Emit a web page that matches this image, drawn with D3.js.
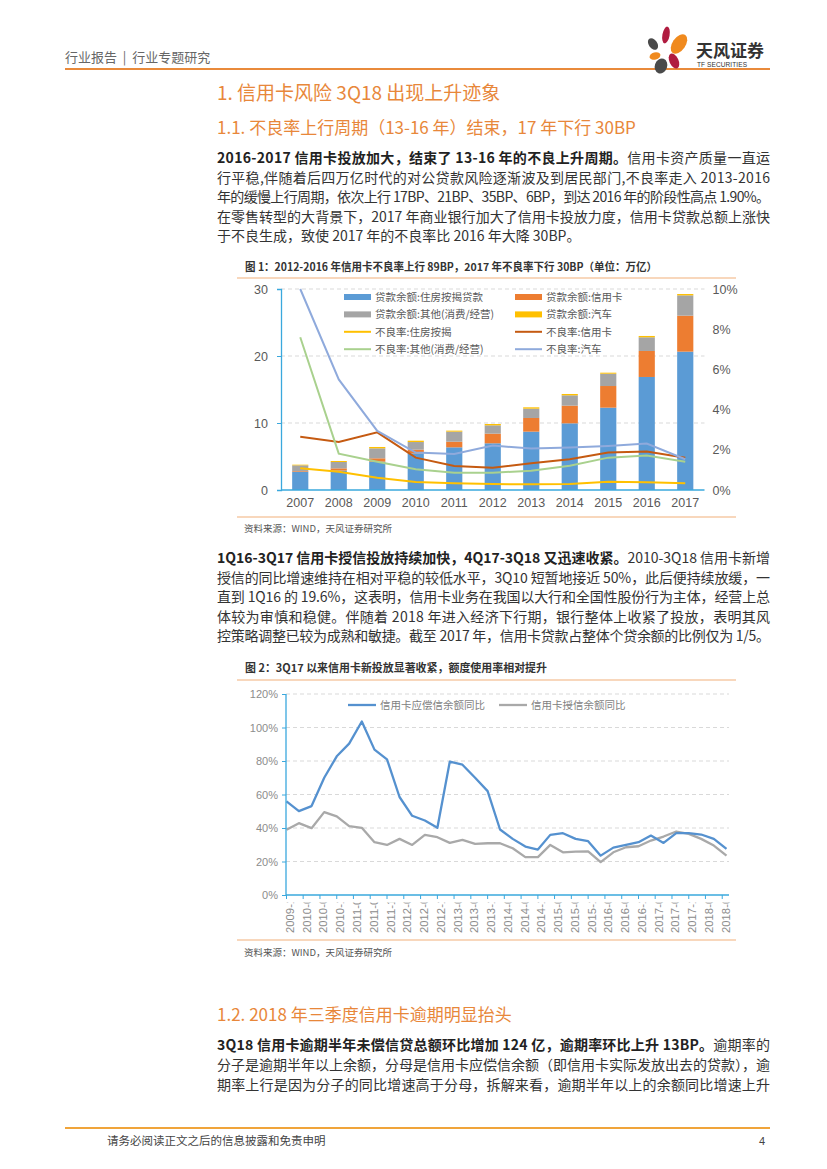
<!DOCTYPE html>
<html>
<head>
<meta charset="utf-8">
<script src="https://cdn.jsdelivr.net/npm/d3@7"></script>
<style>
  body { margin: 0; background: #fff; }
  svg { display: block; }
</style>
</head>
<body>
<div id="page"></div>
<script>
// 数据：图1（单位：万亿 / 不良率 %）
years = ['2007', '2008', '2009', '2010', '2011', '2012', '2013', '2014', '2015', '2016', '2017']
balMortgage = [2.74, 2.90, 4.23, 5.47, 6.37, 6.97, 8.71, 9.95, 12.29, 16.87, 20.65]
balCard     = [0.10, 0.33, 0.50, 0.55, 0.84, 1.44, 2.04, 2.64, 3.23, 3.88, 5.37]
balOther    = [0.84, 0.95, 1.49, 1.14, 1.50, 1.24, 1.39, 1.54, 1.84, 2.04, 3.03]
balAuto     = [0.10, 0.15, 0.20, 0.20, 0.15, 0.20, 0.20, 0.20, 0.15, 0.20, 0.20]
nplMortgage = [1.08, 0.91, 0.61, 0.40, 0.33, 0.30, 0.28, 0.30, 0.41, 0.38, 0.33]
nplCard     = [2.65, 2.39, 2.87, 1.61, 1.19, 1.11, 1.33, 1.53, 1.86, 1.92, 1.61]
nplOther    = [7.60, 1.81, 1.41, 1.03, 0.86, 0.86, 0.96, 1.21, 1.61, 1.72, 1.41]
nplAuto     = [10.0, 5.50, 2.94, 1.86, 1.79, 2.21, 2.06, 2.11, 2.19, 2.31, 1.53]
leftTicks1  = [0, 10, 20, 30]
rightTicks1 = [0, 2, 4, 6, 8, 10]

// 数据：图2（同比 %）
quarters = ['2009-12', '2010-03', '2010-06', '2010-09', '2010-12', '2011-03', '2011-06', '2011-09', '2011-12',
            '2012-03', '2012-06', '2012-09', '2012-12', '2013-03', '2013-06', '2013-09', '2013-12',
            '2014-03', '2014-06', '2014-09', '2014-12', '2015-03', '2015-06', '2015-09', '2015-12',
            '2016-03', '2016-06', '2016-09', '2016-12', '2017-03', '2017-06', '2017-09', '2017-12',
            '2018-03', '2018-06', '2018-09']
yoyOutstanding = [55.9, 50.1, 53.1, 70.0, 82.8, 90.4, 103.6, 86.8, 81.0, 58.5, 47.3, 44.5, 40.1,
                  79.6, 77.8, 70.0, 62.0, 39.1, 33.5, 28.9, 27.1, 35.9, 36.9, 33.5, 32.1,
                  23.5, 28.3, 29.9, 31.5, 35.5, 31.1, 36.9, 36.9, 36.1, 33.5, 27.5]
yoyCredit      = [38.9, 42.9, 39.9, 49.5, 46.9, 41.1, 40.1, 31.5, 29.9, 33.5, 29.9, 35.9, 34.5,
                  31.1, 32.9, 30.5, 30.9, 30.9, 27.9, 22.6, 22.6, 29.9, 25.5, 25.9, 26.1,
                  19.6, 25.5, 28.5, 29.1, 32.5, 34.9, 37.9, 36.5, 33.5, 29.5, 23.5]
xTicks2 = ['2009-12', '2010-04', '2010-08', '2010-12', '2011-04', '2011-08', '2011-12', '2012-04', '2012-08',
           '2012-12', '2013-04', '2013-08', '2013-12', '2014-04', '2014-08', '2014-12', '2015-04', '2015-08',
           '2015-12', '2016-04', '2016-08', '2016-12', '2017-04', '2017-08', '2017-12', '2018-04', '2018-08']
yTicks2 = [0, 20, 40, 60, 80, 100, 120]

// 正文
para1 = [
  [['2016-2017 信用卡投放加大，结束了 13-16 年的不良上升周期。', true], ['信用卡资产质量一直运', false]],
  [['行平稳,伴随着后四万亿时代的对公贷款风险逐渐波及到居民部门,不良率走入 2013-2016', false]],
  [['年的缓慢上行周期，依次上行 17BP、21BP、35BP、6BP，到达 2016 年的阶段性高点 1.90%。', false]],
  [['在零售转型的大背景下，2017 年商业银行加大了信用卡投放力度，信用卡贷款总额上涨快', false]],
  [['于不良生成，致使 2017 年的不良率比 2016 年大降 30BP。', false]]
]
para2 = [
  [['1Q16-3Q17 信用卡授信投放持续加快，4Q17-3Q18 又迅速收紧。', true], ['2010-3Q18 信用卡新增', false]],
  [['授信的同比增速维持在相对平稳的较低水平，3Q10 短暂地接近 50%，此后便持续放缓，一', false]],
  [['直到 1Q16 的 19.6%，这表明，信用卡业务在我国以大行和全国性股份行为主体，经营上总', false]],
  [['体较为审慎和稳健。伴随着 2018 年进入经济下行期，银行整体上收紧了投放，表明其风', false]],
  [['控策略调整已较为成熟和敏捷。截至 2017 年，信用卡贷款占整体个贷余额的比例仅为 1/5。', false]]
]
para3 = [
  [['3Q18 信用卡逾期半年未偿信贷总额环比增加 124 亿，逾期率环比上升 13BP。', true], ['逾期率的', false]],
  [['分子是逾期半年以上余额，分母是信用卡应偿信余额（即信用卡实际发放出去的贷款），逾', false]],
  [['期率上行是因为分子的同比增速高于分母，拆解来看，逾期半年以上的余额同比增速上升', false]]
]

// 基本设置
W = 827
H = 1169
CJK = "'Noto Sans CJK SC', 'Noto Sans', sans-serif"
NUM = "'Liberation Sans Narrow', 'Liberation Sans', Arial, sans-serif"
ORANGE = '#e8873a'
AXIS = '#3aa8dd'

svg = d3.select('#page').append('svg')
        .attr('width', W)
        .attr('height', H)
        .style('font-family', CJK)

// 页眉
svg.append('text')
  .attr('x', 65).attr('y', 62)
  .attr('font-size', '13px')
  .attr('fill', '#666')
  .attr('xml:space', 'preserve')
  .text('行业报告  |  行业专题研究')

svg.append('line')
  .attr('x1', 65).attr('x2', 770)
  .attr('y1', 69).attr('y2', 69)
  .attr('stroke', '#e98a3b').attr('stroke-width', 2)

// 天风证券 logo
petals = [
  [-3, -14, 3.6, 8.5, 10, '#b01c40'],
  [10, -5, 6.5, 11, 35, '#f08a1e'],
  [-16, -5, 4.2, 6.5, -35, '#4a4a4a'],
  [-14, 7, 5.5, 3.6, -15, '#f08a1e'],
  [5, 12, 4.5, 8, -25, '#b01c40'],
  [-8, 17, 6.2, 7.6, 20, '#4a4a4a']
]
logo = svg.append('g').attr('transform', 'translate(669,49)')
petals.forEach(p => {
  logo.append('ellipse')
    .attr('cx', 0).attr('cy', 0)
    .attr('rx', p[2]).attr('ry', p[3])
    .attr('transform', `translate(${p[0]},${p[1]}) rotate(${p[4]})`)
    .attr('fill', p[5])
})
svg.append('text')
  .attr('x', 696).attr('y', 57)
  .attr('font-size', '17px').attr('font-weight', 'bold')
  .attr('fill', '#333')
  .attr('textLength', 68)
  .text('天风证券')
svg.append('text')
  .attr('x', 697).attr('y', 67)
  .attr('font-family', NUM)
  .attr('font-size', '6.5px')
  .attr('fill', '#333')
  .attr('textLength', 50)
  .text('TF SECURITIES')

// 标题
function heading(txt, y, size) {
  svg.append('text')
    .attr('x', 217).attr('y', y)
    .attr('font-size', `${size}px`)
    .attr('fill', ORANGE)
    .text(txt)
}
heading('1. 信用卡风险 3Q18 出现上升迹象', 100, 19)
heading('1.1. 不良率上行周期（13-16 年）结束，17 年下行 30BP', 134, 17)
heading('1.2. 2018 年三季度信用卡逾期明显抬头', 1021, 17)

// 段落（两端对齐）
function paragraph(lines, y0, dy, lastFull) {
  lines.forEach((segs, i) => {
    t = svg.append('text')
      .attr('x', 217).attr('y', y0 + i * dy)
      .attr('font-size', '14px')
      .attr('fill', '#333')
    segs.forEach(s => {
      t.append('tspan')
        .attr('font-weight', s[1] ? 'bold' : 'normal')
        .attr('fill', s[1] ? '#222' : '#333')
        .text(s[0])
    })
    if (i < lines.length - 1 || lastFull) {
      t.attr('textLength', 553).attr('lengthAdjust', 'spacing')
    }
  })
}
paragraph(para1, 163, 19.6, false)
paragraph(para2, 563, 19.6, true)
paragraph(para3, 1050, 20, true)

// 图框
function figTitle(txt, y, len) {
  svg.append('text')
    .attr('x', 245).attr('y', y)
    .attr('font-size', '11px').attr('font-weight', 'bold')
    .attr('fill', '#333')
    .attr('textLength', len).attr('lengthAdjust', 'spacingAndGlyphs')
    .text(txt)
}
function figLine(y) {
  svg.append('line')
    .attr('x1', 237).attr('x2', 736)
    .attr('y1', y).attr('y2', y)
    .attr('stroke', '#f2b07a').attr('stroke-width', 1.2)
}
function source(y) {
  svg.append('text')
    .attr('x', 244).attr('y', y)
    .attr('font-size', '9.5px')
    .attr('fill', '#555')
    .text('资料来源：WIND，天风证券研究所')
}

figTitle('图 1：2012-2016 年信用卡不良率上行 89BP，2017 年不良率下行 30BP（单位：万亿）', 271, 412)
figLine(278)
figLine(517)
source(532)

figTitle('图 2：3Q17 以来信用卡新投放显著收紧，额度使用率相对提升', 672, 302)
figLine(680)
figLine(940)
source(956)

// ---------------- 图 1 ----------------
g1 = svg.append('g')

x1 = d3.scaleBand().domain(years).range([281, 704.5]).paddingInner(0.58).paddingOuter(0.29)
yL = d3.scaleLinear().domain([0, 30]).range([490, 289])
yR = d3.scaleLinear().domain([0, 10]).range([490, 289])

// 网格线
g1.selectAll('.grid1')
  .data(leftTicks1.filter(d => d > 0))
  .enter().append('line')
  .attr('x1', 281).attr('x2', 704.5)
  .attr('y1', d => yL(d)).attr('y2', d => yL(d))
  .attr('stroke', '#d9d9d9').attr('stroke-dasharray', '4,3')

// 堆叠柱
table1 = years.map((y, i) => ({
  year: y, mortgage: balMortgage[i], card: balCard[i], other: balOther[i], auto: balAuto[i]
}))
keys1 = ['mortgage', 'card', 'other', 'auto']
barColor = d3.scaleOrdinal().domain(keys1).range(['#5b9bd5', '#ed7d31', '#a5a5a5', '#ffc000'])
stack1 = d3.stack().keys(keys1)(table1)

g1.selectAll('.serie')
  .data(stack1)
  .enter().append('g')
  .attr('fill', d => barColor(d.key))
  .selectAll('rect')
  .data(d => d)
  .enter().append('rect')
  .attr('x', d => x1(d.data.year))
  .attr('width', x1.bandwidth())
  .attr('y', d => yL(d[1]))
  .attr('height', d => yL(d[0]) - yL(d[1]))

// 不良率折线
lines1 = [
  { name: '不良率:住房按揭', values: nplMortgage, color: '#ffc000' },
  { name: '不良率:信用卡', values: nplCard, color: '#c55a11' },
  { name: '不良率:其他(消费/经营)', values: nplOther, color: '#a9d18e' },
  { name: '不良率:汽车', values: nplAuto, color: '#8faadc' }
]
line1 = d3.line()
  .x((d, i) => x1(years[i]) + x1.bandwidth() / 2)
  .y(d => yR(d))

lines1.forEach(s => {
  g1.append('path')
    .datum(s.values)
    .attr('d', line1)
    .attr('fill', 'none')
    .attr('stroke', s.color)
    .attr('stroke-width', 2)
})

// 坐标轴
axL = g1.append('g')
  .attr('transform', 'translate(281,0)')
  .call(d3.axisLeft(yL).tickValues(leftTicks1).tickSize(4).tickPadding(9))
axR = g1.append('g')
  .attr('transform', 'translate(704.5,0)')
  .call(d3.axisRight(yR).tickValues(rightTicks1).tickSize(0).tickPadding(8).tickFormat(d => d + '%'))
axB = g1.append('g')
  .attr('transform', 'translate(0,490)')
  .call(d3.axisBottom(x1).tickSize(0).tickPadding(8))

axR.select('.domain').remove()
;[axL, axB].forEach(a => {
  a.select('.domain').attr('stroke', AXIS).attr('stroke-width', 1.3)
  a.selectAll('.tick line').attr('stroke', AXIS)
})
;[axL, axR, axB].forEach(a => {
  a.selectAll('text')
    .attr('font-family', NUM)
    .attr('font-size', '12.5px')
    .attr('fill', '#595959')
})
axB.selectAll('.domain').attr('d', 'M281,0H704.5')

// 图例
legend1 = [
  { name: '贷款余额:住房按揭贷款', color: '#5b9bd5', bar: true },
  { name: '贷款余额:信用卡', color: '#ed7d31', bar: true },
  { name: '贷款余额:其他(消费/经营)', color: '#a5a5a5', bar: true },
  { name: '贷款余额:汽车', color: '#ffc000', bar: true }
].concat(lines1.map(s => ({ name: s.name, color: s.color, bar: false })))

legend1.forEach((d, i) => {
  lx = i % 2 === 0 ? 344 : 515
  ly = 297 + Math.floor(i / 2) * 17.4
  if (d.bar) {
    g1.append('rect')
      .attr('x', lx).attr('y', ly - 3)
      .attr('width', 27).attr('height', 6)
      .attr('fill', d.color)
  } else {
    g1.append('line')
      .attr('x1', lx).attr('x2', lx + 27)
      .attr('y1', ly).attr('y2', ly)
      .attr('stroke', d.color).attr('stroke-width', 2)
  }
  g1.append('text')
    .attr('x', lx + 31).attr('y', ly + 3.7)
    .attr('font-size', '10.5px')
    .attr('fill', '#595959')
    .text(d.name)
})

// ---------------- 图 2 ----------------
g2 = svg.append('g')
parseM = d3.timeParse('%Y-%m')

x2 = d3.scaleTime()
  .domain([parseM(quarters[0]), parseM(quarters[quarters.length - 1])])
  .range([286.5, 726.5])
y2 = d3.scaleLinear().domain([0, 120]).range([895, 694])

g2.selectAll('.grid2')
  .data(yTicks2.filter(d => d > 0))
  .enter().append('line')
  .attr('x1', 286).attr('x2', 729)
  .attr('y1', d => y2(d)).attr('y2', d => y2(d))
  .attr('stroke', '#d9d9d9').attr('stroke-dasharray', '4,3')

series2 = [
  { name: '信用卡应偿信余额同比', values: yoyOutstanding, color: '#5591cf' },
  { name: '信用卡授信余额同比', values: yoyCredit, color: '#a9a9a9' }
]
line2 = d3.line()
  .x((d, i) => x2(parseM(quarters[i])))
  .y(d => y2(d))

// 灰线在下，蓝线在上
series2.slice().reverse().forEach(s => {
  g2.append('path')
    .datum(s.values)
    .attr('d', line2)
    .attr('fill', 'none')
    .attr('stroke', s.color)
    .attr('stroke-width', 2.3)
    .attr('stroke-linejoin', 'round')
})

ax2L = g2.append('g')
  .attr('transform', 'translate(286,0)')
  .call(d3.axisLeft(y2).tickValues(yTicks2).tickSize(4).tickPadding(4).tickFormat(d => d + '%'))
ax2L.select('.domain').attr('stroke', AXIS).attr('stroke-width', 1.3).attr('d', 'M0,694V895')
ax2L.selectAll('.tick line').attr('stroke', AXIS)
ax2L.selectAll('text')
  .attr('font-family', NUM)
  .attr('font-size', '11px')
  .attr('fill', '#8c8c8c')

// x 轴
g2.append('line')
  .attr('x1', 286).attr('x2', 729)
  .attr('y1', 895).attr('y2', 895)
  .attr('stroke', AXIS).attr('stroke-width', 1.3)

tickDates = xTicks2.map(parseM)
g2.selectAll('.xt2')
  .data(tickDates)
  .enter().append('line')
  .attr('x1', d => x2(d)).attr('x2', d => x2(d))
  .attr('y1', 895).attr('y2', 899)
  .attr('stroke', AXIS)

// 标签在原图中被截断，只显示年份部分
svg.append('clipPath')
  .attr('id', 'clipx2')
  .append('rect')
  .attr('x', 270).attr('y', 902.5)
  .attr('width', 480).attr('height', 50)

g2.append('g')
  .attr('clip-path', 'url(#clipx2)')
  .selectAll('text')
  .data(xTicks2)
  .enter().append('text')
  .attr('transform', d => `translate(${x2(parseM(d)) + 7.5},933) rotate(-90)`)
  .attr('font-family', "'Liberation Sans', Arial, sans-serif")
  .attr('font-size', '11.3px')
  .attr('fill', '#8c8c8c')
  .text(d => d)

// 图例
series2.forEach((s, i) => {
  lx = i === 0 ? 348 : 499
  g2.append('line')
    .attr('x1', lx).attr('x2', lx + 28)
    .attr('y1', 705).attr('y2', 705)
    .attr('stroke', s.color).attr('stroke-width', 2.3)
  g2.append('text')
    .attr('x', lx + 32).attr('y', 709)
    .attr('font-size', '10.5px')
    .attr('fill', '#7f7f7f')
    .text(s.name)
})

// 页脚
svg.append('line')
  .attr('x1', 65).attr('x2', 770)
  .attr('y1', 1128).attr('y2', 1128)
  .attr('stroke', '#f0a43a').attr('stroke-width', 2.2)
svg.append('text')
  .attr('x', 107).attr('y', 1145)
  .attr('font-size', '11.5px')
  .attr('fill', '#444')
  .text('请务必阅读正文之后的信息披露和免责申明')
svg.append('text')
  .attr('x', 765).attr('y', 1145)
  .attr('text-anchor', 'end')
  .attr('font-family', NUM)
  .attr('font-size', '11px')
  .attr('fill', '#444')
  .text('4')
</script>
</body>
</html>
